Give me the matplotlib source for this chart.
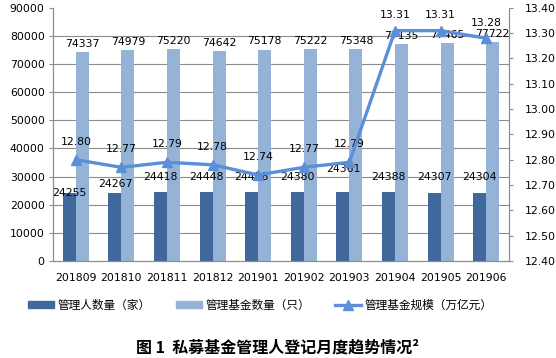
import numpy as np
import matplotlib.pyplot as plt
from matplotlib.patches import Patch
from matplotlib.lines import Line2D

plt.rcParams['font.family'] = ['Noto Sans CJK SC', 'DejaVu Sans']

months = ['201809', '201810', '201811', '201812', '201901',
          '201902', '201903', '201904', '201905', '201906']
managers = [24255, 24267, 24418, 24448, 24458, 24380, 24361, 24388, 24307, 24304]
funds = [74337, 74979, 75220, 74642, 75178, 75222, 75348, 77135, 77465, 77722]
scale = [12.80, 12.77, 12.79, 12.78, 12.74, 12.77, 12.79, 13.31, 13.31, 13.28]

dark = '#41689B'
light = '#95B3D7'
line_c = '#5B8FD8'
grid_c = '#8C8C8C'
num_font = ['DejaVu Sans']

fig = plt.figure(figsize=(5.56, 3.58), dpi=100)
ax = fig.add_axes([0.0953, 0.271, 0.8202, 0.707])
ax2 = ax.twinx()

x = np.arange(len(months))
w = 0.285
ax.bar(x - w / 2, managers, w, color=dark, zorder=2)
ax.bar(x + w / 2, funds, w, color=light, zorder=2)

ax.set_ylim(0, 90000)
ax.set_yticks(np.arange(0, 90001, 10000))
ax.set_xlim(-0.5, len(months) - 0.5)
ax.set_xticks(x)
ax.set_xticklabels(months, family=num_font, fontsize=7.8)
ax.tick_params(axis='x', length=0, pad=8.5)
ax.tick_params(axis='y', length=3, color=grid_c, labelsize=7.8, pad=3)
for t in ax.get_yticklabels():
    t.set_family(num_font)
for y in range(10000, 80001, 10000):
    ax.axhline(y, color=grid_c, lw=0.8, zorder=1)

ax.spines['top'].set_visible(False)
ax2.spines['top'].set_visible(False)
for s in ['left', 'bottom', 'right']:
    ax.spines[s].set_color(grid_c)
    ax2.spines[s].set_color(grid_c)

# data labels on bars (some were dragged by hand in the original)
dark_off = [0, 6, 11, 11, 11, 11, 17, 11, 11, 11]
for xi, v, off in zip(x, managers, dark_off):
    ax.annotate(str(v), (xi - w / 2, v), xytext=(0, off), textcoords='offset points',
                ha='center', va='center', fontsize=7.8, family=num_font, zorder=5)
for xi, v in zip(x, funds):
    ax.annotate(str(v), (xi + w / 2, v), xytext=(0, 6), textcoords='offset points',
                ha='center', va='center', fontsize=7.8, family=num_font, zorder=5)

ax2.plot(x, scale, color=line_c, lw=2.4, marker='^', markersize=7.5, zorder=4)
ax2.set_ylim(12.40, 13.40)
ticks2 = np.round(np.arange(12.40, 13.401, 0.10), 2)
ax2.set_yticks(ticks2)
ax2.set_yticklabels([f'{v:.2f}' for v in ticks2], family=num_font, fontsize=7.8)
ax2.tick_params(axis='y', length=3, color=grid_c, pad=8)
for xi, v in zip(x, scale):
    off = 13 if v < 13 else 11
    ax2.annotate(f'{v:.2f}', (xi, v), xytext=(0, off), textcoords='offset points',
                 ha='center', va='center', fontsize=7.8, family=num_font)

# line over the bars
ax.set_zorder(1)
ax2.set_zorder(2)
ax2.patch.set_visible(False)

handles = [Patch(color=dark), Patch(color=light),
           Line2D([0], [0], color=line_c, lw=2.4, marker='^', markersize=7.5)]
labels = ['管理人数量（家）', '管理基金数量（只）', '管理基金规模（万亿元）']
fig.legend(handles, labels, loc='center', bbox_to_anchor=(0.468, 0.148), ncol=3,
           frameon=False, fontsize=8.4, handlelength=2.2, handleheight=0.5,
           columnspacing=2.2, handletextpad=0.3)

fig.text(0.5, 0.028, '图 1  私募基金管理人登记月度趋势情况²', ha='center', va='center',
         fontsize=11.5, weight='bold')

fig.savefig('out.png', dpi=100)
